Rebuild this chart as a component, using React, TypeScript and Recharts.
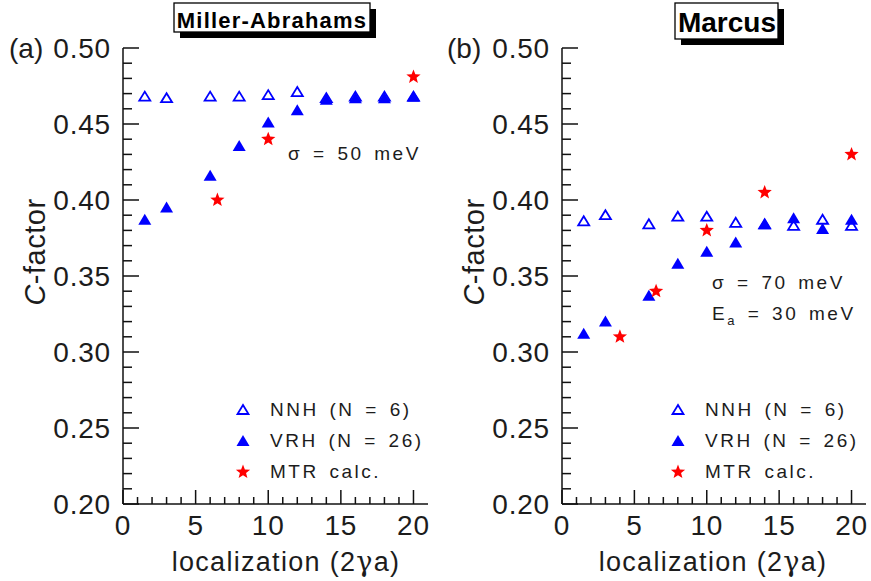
import { ScatterChart, Scatter, XAxis, YAxis, Legend } from "recharts";

// localization (2γa) positions
const locNNH = [1.5, 3, 6, 8, 10, 12, 14, 16, 18, 20];
const locVRH = [1.5, 3, 6, 8, 10, 12, 14, 16, 18, 20];
const locMTR_A = [6.5, 10, 20];
const locMTR_B = [4, 6.5, 10, 14, 20];

// (a) Miller-Abrahams
const nnhA = [0.468, 0.467, 0.468, 0.468, 0.469, 0.471, 0.467, 0.468, 0.468, 0.468];
const vrhA = [0.387, 0.395, 0.416, 0.4355, 0.451, 0.459, 0.466, 0.467, 0.467, 0.468];
const mtrA = [0.4, 0.44, 0.481];

// (b) Marcus
const nnhB = [0.386, 0.39, 0.384, 0.389, 0.389, 0.385, 0.384, 0.383, 0.387, 0.383];
const vrhB = [0.312, 0.32, 0.337, 0.358, 0.366, 0.372, 0.384, 0.388, 0.381, 0.387];
const mtrB = [0.31, 0.34, 0.38, 0.405, 0.43];

const xTicks = [0, 1, 2, 3, 4, 5, 6, 7, 8, 9, 10, 11, 12, 13, 14, 15, 16, 17, 18, 19, 20];
const yTicks = Array.from({ length: 31 }, (_, i) => +(0.2 + i * 0.01).toFixed(2));

const seriesNames = ["NNH (N = 6)", "VRH (N = 26)", "MTR calc."];

const FONT = "'Liberation Sans', Arial, sans-serif";
const INK = "#1c1c1c";
const BLUE = "#0000ff";
const RED = "#ff0000";

const pts = (xs: number[], ys: number[]) => xs.map((x, i) => ({ x, y: ys[i] }));

const OpenTri = ({ cx, cy }: any) => (
  <polygon
    points={`${cx},${cy - 5} ${cx + 5.5},${cy + 4} ${cx - 5.5},${cy + 4}`}
    fill="#fff"
    stroke={BLUE}
    strokeWidth={1.8}
  />
);

const FilledTri = ({ cx, cy }: any) => (
  <polygon
    points={`${cx},${cy - 6} ${cx + 6.5},${cy + 5} ${cx - 6.5},${cy + 5}`}
    fill={BLUE}
  />
);

const Star = ({ cx, cy }: any) => {
  const p: string[] = [];
  for (let i = 0; i < 10; i++) {
    const r = i % 2 === 0 ? 7.5 : 3.2;
    const a = -Math.PI / 2 + (i * Math.PI) / 5;
    p.push(`${cx + r * Math.cos(a)},${cy + r * Math.sin(a)}`);
  }
  return <polygon points={p.join(" ")} fill={RED} />;
};

const markers = [OpenTri, FilledTri, Star];

const XTick = (props: any) => {
  const { x, y, payload } = props;
  const major = payload.value % 5 === 0;
  return (
    <g>
      <line x1={x} x2={x} y1={y} y2={y - (major ? 14 : 7)} stroke="#111" strokeWidth={1.5} />
      {major && (
        <text x={x} y={y + 31} textAnchor="middle" fontSize={28} fill={INK} fontFamily={FONT} letterSpacing={0.8}>
          {payload.value}
        </text>
      )}
    </g>
  );
};

const YTick = (props: any) => {
  const { x, y, payload } = props;
  const major = Math.round(payload.value * 100) % 5 === 0;
  return (
    <g>
      <line x1={x} x2={x + (major ? 16 : 9)} y1={y} y2={y} stroke="#111" strokeWidth={1.5} />
      {major && (
        <text x={x - 12} y={y + 10} textAnchor="end" fontSize={28} fill={INK} fontFamily={FONT} letterSpacing={0.8}>
          {payload.value.toFixed(2)}
        </text>
      )}
    </g>
  );
};

const LegendBox = ({ payload }: any) => {
  const items = [...(payload || [])].sort(
    (a: any, b: any) => seriesNames.indexOf(a.value) - seriesNames.indexOf(b.value)
  );
  return (
    <div style={{ fontFamily: FONT, fontSize: 19, color: INK, letterSpacing: 2.5, wordSpacing: 3 }}>
      {items.map((entry: any) => {
        const M = markers[seriesNames.indexOf(entry.value)];
        return (
          <div key={entry.value} style={{ display: "flex", alignItems: "center", height: 31 }}>
            <svg width={22} height={22} style={{ marginRight: 16 }}>
              <M cx={11} cy={11} />
            </svg>
            <span style={{ whiteSpace: "nowrap" }}>{entry.value}</span>
          </div>
        );
      })}
    </div>
  );
};

const frame = { stroke: "#111", strokeWidth: 1.5 };

function Panel({ nnh, vrh, mtrX, mtr, width, marginRight, legendLeft }: any) {
  return (
    <ScatterChart width={width} height={581} margin={{ top: 48, right: marginRight, bottom: 0, left: 0 }}>
      <XAxis
        xAxisId="b"
        type="number"
        dataKey="x"
        domain={[0, 21]}
        ticks={xTicks}
        interval={0}
        tick={<XTick />}
        tickLine={false}
        tickSize={0}
        tickMargin={0}
        axisLine={frame}
        height={77}
        allowDataOverflow
      />
      <XAxis xAxisId="t" orientation="top" type="number" domain={[0, 21]} tick={false} tickLine={false} axisLine={frame} height={0} />
      <YAxis
        yAxisId="l"
        type="number"
        dataKey="y"
        domain={[0.2, 0.5]}
        ticks={yTicks}
        interval={0}
        tick={<YTick />}
        tickLine={false}
        tickSize={0}
        tickMargin={0}
        axisLine={frame}
        width={123}
        allowDataOverflow
      />
      <YAxis yAxisId="r" orientation="right" type="number" domain={[0.2, 0.5]} tick={false} tickLine={false} axisLine={frame} width={0} />
      <Scatter
        name={seriesNames[0]}
        data={pts(locNNH, nnh)}
        xAxisId="b"
        yAxisId="l"
        shape={(p: any) => <OpenTri {...p} />}
        isAnimationActive={false}
      />
      <Scatter
        name={seriesNames[1]}
        data={pts(locVRH, vrh)}
        xAxisId="b"
        yAxisId="l"
        shape={(p: any) => <FilledTri {...p} />}
        isAnimationActive={false}
      />
      <Scatter
        name={seriesNames[2]}
        data={pts(mtrX, mtr)}
        xAxisId="b"
        yAxisId="l"
        shape={(p: any) => <Star {...p} />}
        isAnimationActive={false}
      />
      <Legend
        layout="vertical"
        align="center"
        verticalAlign="middle"
        content={<LegendBox />}
        wrapperStyle={{ left: legendLeft, top: 394, width: 200 }}
      />
    </ScatterChart>
  );
}

const txt = { fontFamily: FONT, fill: INK } as const;

export default function App() {
  return (
    <div style={{ position: "absolute", left: 0, top: 0, width: 871, height: 581, background: "#fff" }}>
      <div style={{ position: "absolute", left: 0, top: 0 }}>
        <Panel nnh={nnhA} vrh={vrhA} mtrX={locMTR_A} mtr={mtrA} width={440} marginRight={12} legendLeft={232} />
      </div>
      <div style={{ position: "absolute", left: 439, top: 0 }}>
        <Panel nnh={nnhB} vrh={vrhB} mtrX={locMTR_B} mtr={mtrB} width={432} marginRight={5} legendLeft={228} />
      </div>
      <svg width={871} height={581} style={{ position: "absolute", left: 0, top: 0, pointerEvents: "none" }}>
        {/* titles */}
        <rect x={180} y={9} width={196} height={29} fill="#000" />
        <rect x={174} y={3} width={196} height={29} fill="#fff" stroke="#000" strokeWidth={1.3} />
        <text x={272} y={28} textAnchor="middle" fontSize={22} fontWeight="bold" letterSpacing={1.2} {...txt} fill="#000">
          Miller-Abrahams
        </text>
        <rect x={681} y={9} width={103} height={36} fill="#000" />
        <rect x={675} y={3} width={103} height={36} fill="#fff" stroke="#000" strokeWidth={1.3} />
        <text x={727} y={32} textAnchor="middle" fontSize={28} fontWeight="bold" {...txt} fill="#000">
          Marcus
        </text>

        {/* panel labels */}
        <text x={9} y={58} fontSize={28} {...txt}>(a)</text>
        <text x={447} y={58} fontSize={28} {...txt}>(b)</text>

        {/* y axis titles */}
        <text x={45} y={252} transform="rotate(-90 45 252)" textAnchor="middle" fontSize={29} letterSpacing={0.5} {...txt}>
          <tspan fontStyle="italic">C</tspan>-factor
        </text>
        <text x={484} y={252} transform="rotate(-90 484 252)" textAnchor="middle" fontSize={29} letterSpacing={0.5} {...txt}>
          <tspan fontStyle="italic">C</tspan>-factor
        </text>

        {/* x axis titles */}
        <text x={286} y={571} textAnchor="middle" fontSize={27} letterSpacing={1.3} {...txt}>
          localization (2<tspan fontFamily="'DejaVu Serif', serif">γ</tspan>a)
        </text>
        <text x={713} y={571} textAnchor="middle" fontSize={27} letterSpacing={1.3} {...txt}>
          localization (2<tspan fontFamily="'DejaVu Serif', serif">γ</tspan>a)
        </text>

        {/* annotations */}
        <text x={288} y={160} fontSize={19} letterSpacing={2.5} wordSpacing={3} {...txt}>
          σ = 50 meV
        </text>
        <text x={712} y={289} fontSize={19} letterSpacing={2.5} wordSpacing={3} {...txt}>
          σ = 70 meV
        </text>
        <text x={712} y={320} fontSize={19} letterSpacing={2.5} wordSpacing={3} {...txt}>
          E<tspan fontSize={13} dy={5}>a</tspan>
          <tspan dy={-5}> = 30 meV</tspan>
        </text>
      </svg>
    </div>
  );
}
